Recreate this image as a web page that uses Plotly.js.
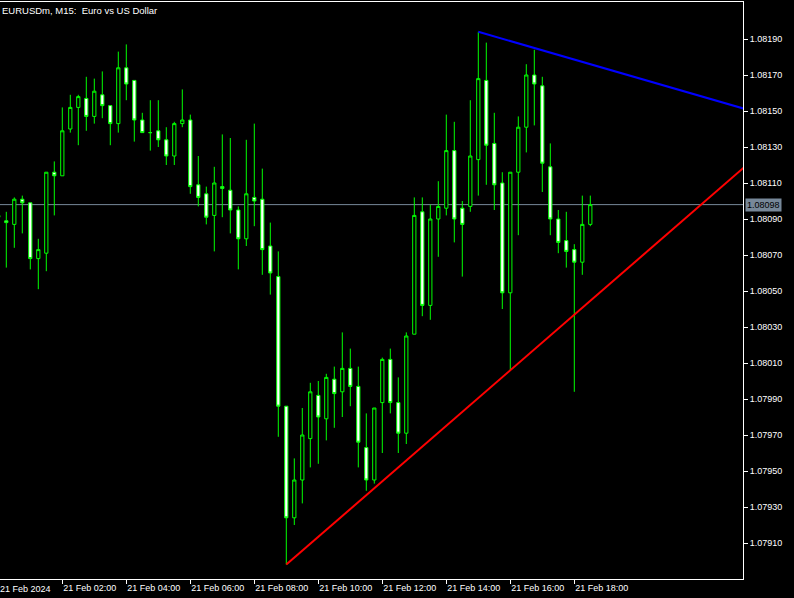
<!DOCTYPE html>
<html><head><meta charset="utf-8">
<script src="https://cdn.plot.ly/plotly-3.0.1.min.js"></script>
<style>html,body{margin:0;padding:0;background:#000;overflow:hidden}#chart{width:794px;height:598px}</style>
</head><body><div id="chart"></div>
<script>
// EURUSDm M15, 21 Feb 2024, bars from 00:00 (bar 0) every 15 minutes
const openP = [1.08091,1.08089,1.08087,1.08101,1.08099,1.08068,1.08071,1.08116,1.08114,1.08140,
  1.08152,1.08157,1.08147,1.08159,1.08153,1.08143,1.08174,1.08167,1.08145,1.08138,
  1.08139,1.08134,1.08125,1.08143,1.08145,1.08109,1.08104,1.08092,1.08108,1.08106,
  1.08095,1.08079,1.08102,1.08101,1.08075,1.08058,1.07986,1.07924,1.07945,1.07968,
  1.07992,1.07979,1.08001,1.07994,1.08007,1.07997,1.07963,1.07945,1.07988,1.08012,
  1.07988,1.07971,1.08026,1.08094,1.08042,1.08090,1.08096,1.08128,1.08096,1.08097,
  1.08123,1.08167,1.08132,1.08110,1.08049,1.08116,1.08141,1.08170,1.08164,1.08119,
  1.08090,1.08078,1.08073,1.08066,1.08087];
const highP = [1.08094,1.08094,1.08102,1.08103,1.08099,1.08079,1.08116,1.08122,1.08152,1.08159,
  1.08159,1.08169,1.08168,1.08172,1.08153,1.08183,1.08187,1.08167,1.08149,1.08156,
  1.08156,1.08141,1.08144,1.08162,1.08148,1.08125,1.08108,1.08119,1.08137,1.08135,
  1.08097,1.08134,1.08143,1.08118,1.08088,1.08072,1.07986,1.07957,1.07985,1.07999,
  1.08000,1.08004,1.08008,1.08027,1.08018,1.08008,1.07982,1.07985,1.08013,1.08018,
  1.08002,1.08027,1.08102,1.08102,1.08098,1.08111,1.08148,1.08144,1.08100,1.08156,
  1.08194,1.08188,1.08149,1.08116,1.08116,1.08147,1.08176,1.08184,1.08169,1.08132,
  1.08095,1.08094,1.08076,1.08103,1.08103];
const lowP = [1.08088,1.08063,1.08074,1.08082,1.08062,1.08051,1.08061,1.08092,1.08114,1.08138,
  1.08131,1.08139,1.08143,1.08146,1.08131,1.08138,1.08156,1.08133,1.08138,1.08128,
  1.08130,1.08120,1.08120,1.08141,1.08104,1.08097,1.08087,1.08072,1.08091,1.08082,
  1.08062,1.08075,1.08086,1.08059,1.08048,1.07969,1.07898,1.07920,1.07932,1.07952,
  1.07954,1.07967,1.07974,1.07980,1.07986,1.07952,1.07939,1.07943,1.07960,1.07982,
  1.07960,1.07965,1.08026,1.08036,1.08034,1.08069,1.08092,1.08077,1.08058,1.08094,
  1.08103,1.08109,1.08095,1.08040,1.08006,1.08081,1.08127,1.08142,1.08105,1.08081,
  1.08071,1.08063,1.07994,1.08059,1.08086];
const closeP = [1.08092,1.08088,1.08101,1.08099,1.08068,1.08073,1.08116,1.08114,1.08139,1.08152,
  1.08158,1.08147,1.08161,1.08153,1.08143,1.08174,1.08165,1.08145,1.08138,1.08138,
  1.08134,1.08125,1.08143,1.08145,1.08108,1.08102,1.08091,1.08110,1.08107,1.08095,
  1.08079,1.08104,1.08100,1.08073,1.08060,1.07986,1.07924,1.07945,1.07970,1.07994,
  1.07980,1.08002,1.07993,1.08007,1.07997,1.07966,1.07945,1.07985,1.08012,1.07988,
  1.07971,1.08025,1.08092,1.08042,1.08090,1.08097,1.08128,1.08090,1.08087,1.08125,
  1.08168,1.08131,1.08109,1.08049,1.08116,1.08141,1.08170,1.08165,1.08121,1.08090,
  1.08077,1.08072,1.08066,1.08087,1.08098];

const xTickBars = [8,16,24,32,40,48,56,64,72];
const xTickLabels = ['21 Feb 02:00','21 Feb 04:00','21 Feb 06:00','21 Feb 08:00','21 Feb 10:00',
  '21 Feb 12:00','21 Feb 14:00','21 Feb 16:00','21 Feb 18:00'];
const firstDateLabel = '21 Feb 2024';
const yTickVals = [1.07910,1.07930,1.07950,1.07970,1.07990,1.08010,1.08030,1.08050,
  1.08070,1.08090,1.08110,1.08130,1.08150,1.08170,1.08190];
const currentPrice = 1.08098;
const supportBars = [36,64];
const supportPrices = [1.07898,1.08006];
const resistBars = [60,67];
const resistPrices = [1.08194,1.08185];
const chartTitle = 'EURUSDm, M15:\u00a0\u00a0Euro vs US Dollar';

const bars = openP.map((_, i) => i);
function ray(bx, py, toBar) {
  const slope = (py[1] - py[0]) / (bx[1] - bx[0]);
  return {x: [bx[0], toBar], y: [py[0], py[0] + slope * (toBar - bx[0])]};
}
const sup = ray(supportBars, supportPrices, 110);
const res = ray(resistBars, resistPrices, 110);

const FONT = 'Liberation Sans, Arial, sans-serif';
const data = [
  {type: 'candlestick', x: bars, open: openP, high: highP, low: lowP, close: closeP,
   increasing: {line: {color: '#00FF00', width: 1}, fillcolor: '#000000'},
   decreasing: {line: {color: '#00FF00', width: 1}, fillcolor: '#FFFFFF'},
   whiskerwidth: 0, hoverinfo: 'skip', showlegend: false},
  {type: 'scatter', mode: 'lines', x: sup.x, y: sup.y, line: {color: '#FF0000', width: 2},
   hoverinfo: 'skip', showlegend: false},
  {type: 'scatter', mode: 'lines', x: res.x, y: res.y, line: {color: '#0000FF', width: 2},
   hoverinfo: 'skip', showlegend: false}
];
const layout = {
  width: 794, height: 598,
  margin: {l: 0, r: 51, t: 2, b: 19, pad: 0},
  paper_bgcolor: '#000000', plot_bgcolor: '#000000',
  boxgap: 0.42,
  showlegend: false, hovermode: false, dragmode: false,
  xaxis: {range: [0.2125, 93.0875], rangeslider: {visible: false}, showgrid: false, zeroline: false,
    showline: true, linecolor: '#FFFFFF', linewidth: 1, mirror: true,
    ticks: 'outside', ticklen: 4, tickcolor: '#FFFFFF', tickwidth: 1,
    tickvals: xTickBars, ticktext: xTickLabels, ticklabelposition: 'outside right',
    tickfont: {family: FONT, size: 9, color: '#FFFFFF'}},
  yaxis: {range: [1.0789, 1.0821056], side: 'right', showgrid: false, zeroline: false,
    showline: true, linecolor: '#FFFFFF', linewidth: 1,
    ticks: 'outside', ticklen: 4, tickcolor: '#FFFFFF', tickwidth: 1,
    tickvals: yTickVals, tickformat: '.5f',
    tickfont: {family: FONT, size: 9, color: '#FFFFFF'}},
  shapes: [{type: 'line', xref: 'paper', x0: 0, x1: 1, yref: 'y', y0: currentPrice, y1: currentPrice,
    line: {color: '#778899', width: 1}, layer: 'below'}],
  annotations: [
    {text: chartTitle, xref: 'paper', yref: 'paper', x: 0, y: 1, xanchor: 'left', yanchor: 'top',
     xshift: 0, yshift: -1, showarrow: false, font: {family: FONT, size: 9.5, color: '#FFFFFF'}},
    {text: firstDateLabel, xref: 'paper', yref: 'paper', x: 0, y: 0, xanchor: 'left', yanchor: 'top',
     xshift: -2, yshift: -3, showarrow: false, font: {family: FONT, size: 9, color: '#FFFFFF'}},
    {text: currentPrice.toFixed(5), xref: 'paper', yref: 'y', x: 1, y: currentPrice,
     xanchor: 'left', yanchor: 'middle', xshift: 2, showarrow: false, bgcolor: '#778899',
     borderpad: 1, font: {family: FONT, size: 9, color: '#000000'}}
  ]
};
Plotly.newPlot('chart', data, layout, {staticPlot: true, displayModeBar: false});
</script></body></html>
